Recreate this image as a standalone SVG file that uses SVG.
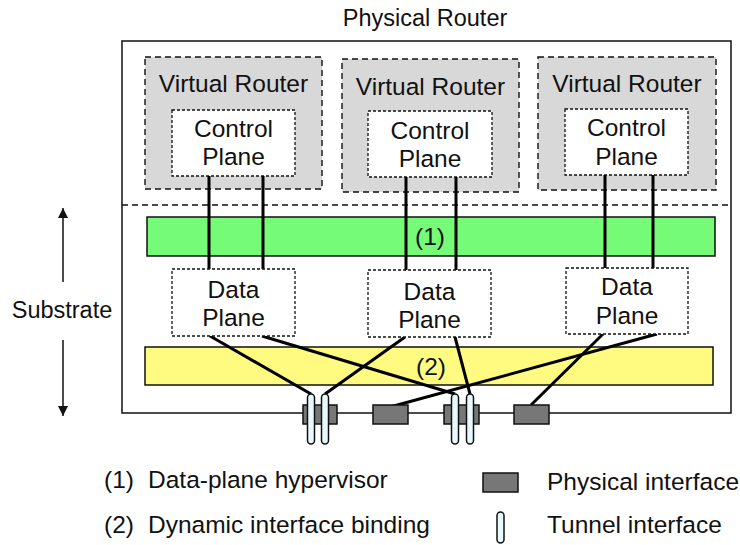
<svg xmlns="http://www.w3.org/2000/svg" width="740" height="545" viewBox="0 0 740 545">
<style>
text{font-family:"Liberation Sans",Arial,Helvetica,sans-serif;font-size:24.5px;fill:#111;text-anchor:middle}
.lg{text-anchor:start}
.sm{font-size:23.5px}
.vr{fill:#d8d8d8;stroke:#111;stroke-width:1.4;stroke-dasharray:6,4}
.pl{fill:#fff;stroke:#111;stroke-width:1.3;stroke-dasharray:3,2}
.ln{stroke:#000;stroke-width:3;fill:none}
.phy{fill:#777;stroke:#111;stroke-width:1.5}
.tun{fill:#e8f8fc;stroke:#111;stroke-width:1.5}
</style>
<defs>
<marker id="ah" viewBox="0 0 10 10" refX="10" refY="5" markerWidth="10" markerHeight="10" markerUnits="userSpaceOnUse" orient="auto">
<path d="M0,0 L10,5 L0,10 z" fill="#111"/>
</marker>
</defs>
<text class="sm" x="425" y="26">Physical Router</text>
<g id="physical-router">
<rect x="122" y="41" width="609" height="372" fill="#fff" stroke="#111" stroke-width="1.5"/>
<line x1="122" y1="205" x2="731" y2="205" stroke="#111" stroke-width="1.4" stroke-dasharray="6,4"/>
</g>
<g id="substrate">
<line x1="63" y1="282" x2="63" y2="208" stroke="#111" stroke-width="1.5" marker-end="url(#ah)"/>
<line x1="63" y1="340" x2="63" y2="416" stroke="#111" stroke-width="1.5" marker-end="url(#ah)"/>
<text class="sm" x="62" y="318">Substrate</text>
</g>
<g id="vr1">
<rect class="vr" x="145" y="57" width="177" height="132"/>
<text x="233.5" y="92">Virtual Router</text>
</g>
<g id="vr2">
<rect class="vr" x="342" y="59" width="177" height="133"/>
<text x="430.5" y="95">Virtual Router</text>
</g>
<g id="vr3">
<rect class="vr" x="538" y="57" width="178" height="133"/>
<text x="627" y="92">Virtual Router</text>
</g>
<g id="cp1">
<rect class="pl" x="172" y="110" width="123" height="66"/>
<text x="233.5" y="137">Control</text>
<text x="233.5" y="165">Plane</text>
</g>
<g id="cp2">
<rect class="pl" x="368" y="111" width="124" height="66"/>
<text x="430" y="139">Control</text>
<text x="430" y="167">Plane</text>
</g>
<g id="cp3">
<rect class="pl" x="565" y="109" width="123" height="66"/>
<text x="626.5" y="136">Control</text>
<text x="626.5" y="165">Plane</text>
</g>
<g id="hypervisor">
<rect x="147" y="217" width="568" height="39" fill="#75fb78" stroke="#111" stroke-width="1.5"/>
<text x="430" y="245">(1)</text>
</g>
<g id="binding">
<rect x="145" y="347" width="568" height="38" fill="#fffb80" stroke="#111" stroke-width="1.5"/>
<text x="431" y="375">(2)</text>
</g>
<g id="connectors">
<line class="ln" x1="209" y1="176" x2="209" y2="269"/>
<line class="ln" x1="263" y1="176" x2="263" y2="269"/>
<line class="ln" x1="406" y1="177" x2="406" y2="270"/>
<line class="ln" x1="456" y1="177" x2="456" y2="270"/>
<line class="ln" x1="605" y1="175" x2="605" y2="268"/>
<line class="ln" x1="653" y1="175" x2="653" y2="268"/>
<line class="ln" x1="210" y1="336" x2="311" y2="394"/>
<line class="ln" x1="262" y1="336" x2="455" y2="394"/>
<line class="ln" x1="405" y1="337" x2="325" y2="394"/>
<line class="ln" x1="455" y1="337" x2="470" y2="394"/>
<line class="ln" x1="603" y1="334" x2="531" y2="405"/>
<line class="ln" x1="657" y1="334" x2="390" y2="407"/>
</g>
<g id="dp1">
<rect class="pl" x="172" y="269" width="123" height="67"/>
<text x="233.5" y="298">Data</text>
<text x="233.5" y="326">Plane</text>
</g>
<g id="dp2">
<rect class="pl" x="368" y="270" width="123" height="67"/>
<text x="429.5" y="300">Data</text>
<text x="429.5" y="328">Plane</text>
</g>
<g id="dp3">
<rect class="pl" x="566" y="268" width="122" height="66"/>
<text x="627" y="295">Data</text>
<text x="627" y="324">Plane</text>
</g>
<g id="interfaces">
<rect class="phy" x="303" y="405" width="34" height="19"/>
<rect class="phy" x="373" y="405" width="35" height="19"/>
<rect class="phy" x="444" y="405" width="35" height="19"/>
<rect class="phy" x="514" y="405" width="35" height="19"/>
<rect class="tun" x="307.5" y="394" width="7" height="50" rx="3.5"/>
<rect class="tun" x="321.5" y="394" width="7" height="50" rx="3.5"/>
<rect class="tun" x="451.5" y="394" width="7" height="50" rx="3.5"/>
<rect class="tun" x="466.5" y="394" width="7" height="50" rx="3.5"/>
</g>
<g id="legend">
<text class="lg" x="104" y="488">(1)</text>
<text class="lg" x="148" y="488">Data-plane hypervisor</text>
<text class="lg" x="104" y="533">(2)</text>
<text class="lg" x="148" y="533">Dynamic interface binding</text>
<rect class="phy" x="483" y="473" width="35" height="19"/>
<text class="lg" x="547" y="490">Physical interface</text>
<rect class="tun" x="497" y="512" width="7" height="31" rx="3.5"/>
<text class="lg" x="547" y="533">Tunnel interface</text>
</g>
</svg>
